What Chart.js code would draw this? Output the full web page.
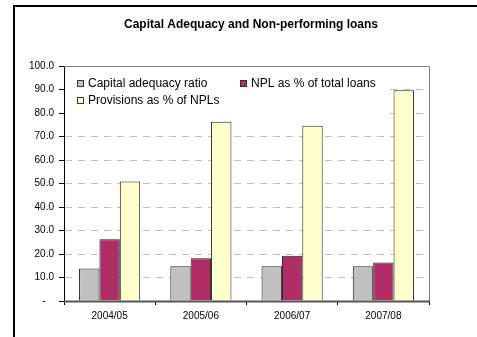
<!DOCTYPE html>
<html>
<head>
<meta charset="utf-8">
<title>Capital Adequacy and Non-performing loans</title>
<script src="https://cdn.jsdelivr.net/npm/chart.js@4/dist/chart.umd.min.js"></script>
<style>
  html, body { margin: 0; padding: 0; background: #fff; }
  canvas { display: block; }
</style>
</head>
<body>
<canvas id="chart" width="477" height="337"></canvas>
<script>
// Fiscal years on the category axis
const years = ['2004/05', '2005/06', '2006/07', '2007/08'];

// Series values (percent)
const capitalAdequacy = [13.8, 14.8, 14.8, 14.8];
const nplShare = [26.3, 18.2, 19.3, 16.4];
const provisionsShare = [50.8, 76.3, 74.6, 89.7];

// Series names
const seriesNames = ['Capital adequacy ratio', 'NPL as % of total loans', 'Provisions as % of NPLs'];

const chartTitle = 'Capital Adequacy and Non-performing loans';
const FONT = '"Liberation Sans", Arial, sans-serif';

// Outer frame, title, plot border, baseline and the legend box drawn inside the plot
const decorations = {
  id: 'decorations',
  beforeDraw(chart) {
    const ctx = chart.ctx;
    ctx.save();
    ctx.fillStyle = '#fff';
    ctx.fillRect(0, 0, chart.width, chart.height);
    ctx.strokeStyle = '#000';
    ctx.lineWidth = 2;
    ctx.beginPath();
    ctx.moveTo(14, chart.height + 5);
    ctx.lineTo(14, 6);
    ctx.lineTo(chart.width + 5, 6);
    ctx.stroke();
    ctx.fillStyle = '#000';
    ctx.font = 'bold 12px ' + FONT;
    ctx.textAlign = 'center';
    ctx.textBaseline = 'middle';
    ctx.fillText(chartTitle, 251, 25);
    ctx.restore();
  },
  beforeDatasetsDraw(chart) {
    const ctx = chart.ctx;
    const a = chart.chartArea;
    ctx.save();
    ctx.strokeStyle = '#808080';
    ctx.lineWidth = 1;
    ctx.beginPath();
    ctx.moveTo(a.left, Math.round(a.top) + 0.5);
    ctx.lineTo(Math.round(a.right) + 0.5, Math.round(a.top) + 0.5);
    ctx.lineTo(Math.round(a.right) + 0.5, a.bottom);
    ctx.stroke();
    // legend panel covers the grid behind it
    ctx.fillStyle = '#fff';
    ctx.fillRect(a.left + 1, a.top + 4, 320, 48);
    const items = chart.data.datasets;
    const slots = [[77, 84], [240, 84], [77, 101]];
    ctx.font = '12px ' + FONT;
    ctx.textBaseline = 'middle';
    ctx.textAlign = 'left';
    items.forEach((ds, i) => {
      const [x, y] = slots[i];
      ctx.fillStyle = ds.backgroundColor;
      ctx.fillRect(x + 0.5, y - 3.5, 6, 6);
      ctx.strokeStyle = '#333';
      ctx.lineWidth = 1;
      ctx.strokeRect(x + 0.5, y - 3.5, 6, 6);
      ctx.fillStyle = '#000';
      ctx.fillText(ds.label, x + 11, y);
    });
    ctx.restore();
  },
  afterDatasetsDraw(chart) {
    const ctx = chart.ctx;
    const a = chart.chartArea;
    const y0 = chart.scales.y.getPixelForValue(0);
    ctx.save();
    ctx.strokeStyle = '#555';
    ctx.lineWidth = 2;
    ctx.beginPath();
    ctx.moveTo(a.left, y0 + 0.5);
    ctx.lineTo(a.right + 1, y0 + 0.5);
    ctx.stroke();
    ctx.restore();
  }
};

new Chart(document.getElementById('chart'), {
  type: 'bar',
  data: {
    labels: years,
    datasets: [
      { label: seriesNames[0], data: capitalAdequacy, backgroundColor: '#C0C0C0' },
      { label: seriesNames[1], data: nplShare, backgroundColor: '#B02D65' },
      { label: seriesNames[2], data: provisionsShare, backgroundColor: '#FFFFCC' }
    ]
  },
  options: {
    responsive: false,
    animation: false,
    devicePixelRatio: 1,
    layout: { padding: { left: 0, top: 66, right: 48, bottom: 0 } },
    datasets: {
      bar: {
        categoryPercentage: 0.67,
        barPercentage: 1.0,
        borderColor: '#222',
        borderWidth: 1
      }
    },
    plugins: {
      legend: { display: false },
      title: { display: false },
      tooltip: { enabled: false }
    },
    scales: {
      x: {
        offset: true,
        afterFit(scale) { scale.height = 36; },
        grid: {
          offset: true,
          drawOnChartArea: false,
          drawTicks: true,
          tickLength: 4,
          tickColor: '#000',
          tickWidth: 1
        },
        border: { display: false },
        ticks: {
          color: '#000',
          padding: 5,
          font: { family: FONT, size: 10 }
        }
      },
      y: {
        min: 0,
        max: 100,
        afterFit(scale) { scale.width = 64; },
        ticks: {
          stepSize: 10,
          color: '#000',
          padding: 5,
          font: { family: FONT, size: 10 },
          callback: (v) => v === 0 ? '-   ' : v.toFixed(1)
        },
        grid: {
          color: (c) => (c.tick && (c.tick.value === 0 || c.tick.value === 100)) ? 'rgba(0,0,0,0)' : '#C0C0C0',
          lineWidth: 1,
          drawTicks: true,
          tickLength: 5,
          tickColor: '#000',
          tickWidth: 1,
          tickBorderDash: []
        },
        border: { display: true, color: '#000', width: 1, dash: [7, 6] }
      }
    }
  },
  plugins: [decorations]
});
</script>
</body>
</html>
